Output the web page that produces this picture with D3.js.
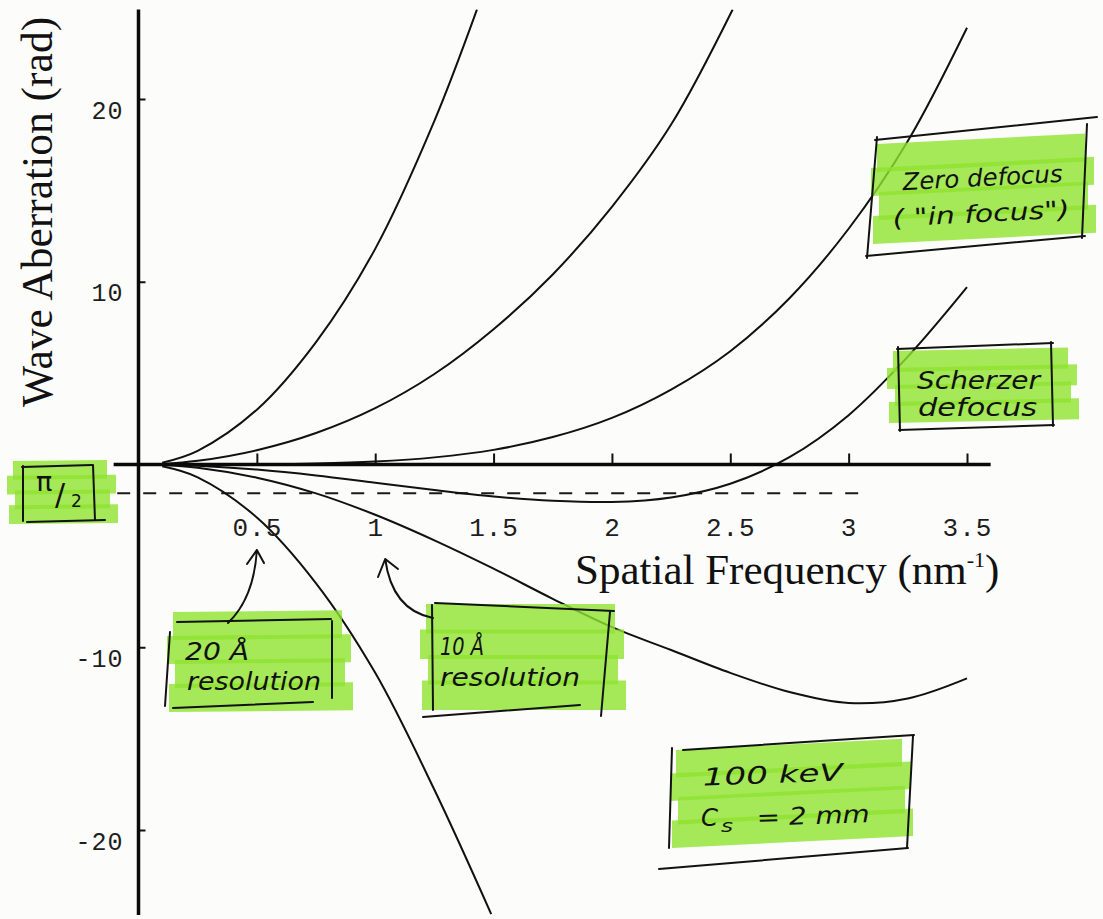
<!DOCTYPE html>
<html>
<head>
<meta charset="utf-8">
<script src="https://cdn.jsdelivr.net/npm/d3@7"></script>
<style>
  body { margin: 0; background: #fcfcfb; }
  svg { display: block; }
</style>
</head>
<body>
<div id="container"></div>
<script>
/* DATA */
const xTicks = [0.5, 1, 1.5, 2, 2.5, 3, 3.5];
const yTicks = [-20, -10, 10, 20];

// spatial frequency (nm^-1) samples
const kFull = [0.1, 0.25, 0.5, 0.75, 1.0, 1.25, 1.5, 1.75, 2.0, 2.25, 2.5, 2.75, 3.0, 3.25, 3.5];
const kOver1000 = [0.1, 0.25, 0.5, 0.75, 1.0, 1.25, 1.43];
const kUnder1000 = [0.1, 0.25, 0.5, 0.75, 1.0, 1.25, 1.49];
const kOver250 = [0.1, 0.25, 0.5, 0.75, 1.0, 1.25, 1.5, 1.75, 2.0, 2.25, 2.51];

// wave aberration (rad)
const chiOver1000 = [0.1, 0.75, 3.0, 6.7, 11.8, 18.8, 24.9];
const chiOver250 = [0.03, 0.2, 0.78, 1.72, 3.08, 4.95, 7.4, 10.4, 14.1, 18.6, 24.9];
const chiZero = [0, 0, 0.01, 0.05, 0.16, 0.39, 0.8, 1.5, 2.55, 4.1, 6.2, 9.1, 12.9, 17.7, 23.9];
const chiScherzer = [-0.01, -0.07, -0.28, -0.6, -1.0, -1.4, -1.75, -1.98, -2.05, -1.8, -1.05, 0.4, 2.7, 5.9, 9.7];
const chiUnder250 = [-0.03, -0.18, -0.72, -1.58, -2.75, -4.15, -5.7, -7.35, -8.9, -10.15, -11.4, -12.45, -13.05, -12.8, -11.7];
const chiUnder1000 = [-0.1, -0.7, -2.9, -6.5, -11.4, -17.8, -24.6];

const halfPi = -Math.PI / 2;   // dashed reference level

/* CONSTANTS AND GLOBALS */
const width = 1103;
const height = 919;

const svg = d3.select("#container")
  .append("svg")
  .attr("width", width)
  .attr("height", height)
  .style("background-color", "#fcfcfb");

// SCALES
const x = d3.scaleLinear().domain([0, 3.5]).range([138.5, 967]);
const y = d3.scaleLinear().domain([-20, 20]).range([830, 99]);

const yTop = 24.9, yBottom = -24.65;

// clip for curves
svg.append("clipPath").attr("id", "plotClip")
  .append("rect")
  .attr("x", x(0)).attr("y", y(yTop))
  .attr("width", x(3.7) - x(0)).attr("height", y(yBottom) - y(yTop));

// DASHED pi/2 LINE
svg.append("line")
  .attr("x1", x(-0.09)).attr("x2", x(3.08))
  .attr("y1", y(halfPi)).attr("y2", y(halfPi))
  .attr("stroke", "#1a1a1a")
  .attr("stroke-width", 2)
  .attr("stroke-dasharray", "13,13");

// CURVES
const series = [
  { k: kOver1000, v: chiOver1000 },
  { k: kOver250, v: chiOver250 },
  { k: kFull, v: chiZero },
  { k: kFull, v: chiScherzer },
  { k: kFull, v: chiUnder250 },
  { k: kUnder1000, v: chiUnder1000 }
];

const lineGen = d3.line()
  .x(d => x(d[0]))
  .y(d => y(d[1]))
  .curve(d3.curveCatmullRom.alpha(0.5));

svg.append("g")
  .attr("clip-path", "url(#plotClip)")
  .selectAll(".curve")
  .data(series)
  .join("path")
  .attr("class", "curve")
  .attr("fill", "none")
  .attr("stroke", "#111")
  .attr("stroke-width", 2)
  .attr("d", s => lineGen(s.k.map((k, i) => [k, s.v[i]])));

// AXES
const monoFont = "'Liberation Mono', 'DejaVu Sans Mono', monospace";

svg.append("g")
  .attr("transform", `translate(${x(0)},0)`)
  .call(d3.axisLeft(y).tickValues(yTicks).tickSizeInner(-7).tickSizeOuter(0).tickPadding(15).tickFormat(d => String(d)))
  .call(g => g.select(".domain").remove())
  .call(g => g.selectAll(".tick line").attr("stroke", "#111").attr("stroke-width", 2))
  .call(g => g.selectAll(".tick text")
    .attr("dy", 19)
    .attr("fill", "#1e1e1e")
    .style("font-family", monoFont)
    .style("font-size", "25px")
    .style("letter-spacing", "1px"));

svg.append("g")
  .attr("transform", `translate(0,${y(0)})`)
  .call(d3.axisBottom(x).tickValues(xTicks).tickSizeInner(-11).tickSizeOuter(0).tickPadding(0).tickFormat(d => String(d)))
  .call(g => g.select(".domain").remove())
  .call(g => g.selectAll(".tick line").attr("stroke", "#111").attr("stroke-width", 2))
  .call(g => g.selectAll(".tick text")
    .attr("y", 71)
    .attr("dy", 0)
    .attr("fill", "#1e1e1e")
    .style("font-family", monoFont)
    .style("font-size", "26px")
    .style("letter-spacing", "1px"));

// axis lines
svg.append("line")
  .attr("x1", x(-0.105)).attr("x2", x(3.6))
  .attr("y1", y(0)).attr("y2", y(0))
  .attr("stroke", "#0a0a0a").attr("stroke-width", 3.5);

svg.append("line")
  .attr("x1", x(0)).attr("x2", x(0))
  .attr("y1", y(yTop)).attr("y2", y(yBottom))
  .attr("stroke", "#0a0a0a").attr("stroke-width", 3.5);

// AXIS TITLES
const serif = "'Liberation Serif', 'DejaVu Serif', serif";

svg.append("text")
  .attr("transform", "translate(52,212) rotate(-90)")
  .attr("text-anchor", "middle")
  .style("font-family", serif)
  .style("font-size", "43.5px")
  .attr("fill", "#111")
  .text("Wave Aberration (rad)");

const xTitle = svg.append("text")
  .attr("x", 575).attr("y", 584)
  .style("font-family", serif)
  .style("font-size", "43px")
  .attr("fill", "#111");
xTitle.append("tspan").text("Spatial Frequency (nm");
xTitle.append("tspan").attr("dy", -17).style("font-size", "22px").text("-1");
xTitle.append("tspan").attr("dy", 17).text(")");

// HANDWRITTEN ANNOTATIONS ================================
const hand = "'DejaVu Sans', sans-serif";
const ink = "#121212";

const notes = [
  { area: [10, 463, 112, 522], tilt: -0.01,
    lines: [[22, 467, 92, 465], [23, 466, 23, 521], [93, 465, 95, 520], [27, 522, 105, 520]] },
  { area: [170, 614, 347, 710], tilt: -0.01,
    lines: [[170, 632, 165, 706], [177, 622, 331, 619], [332, 621, 332, 698], [173, 708, 313, 702]],
    texts: [{ t: "20 Å", x: 185, y: 660, w: 64 }, { t: "resolution", x: 187, y: 690, w: 134 }] },
  { area: [423, 606, 620, 708], tilt: 0.0,
    lines: [[435, 603, 614, 611], [432, 605, 433, 710], [610, 612, 601, 716], [423, 717, 580, 705]],
    texts: [{ t: "10 Å", x: 440, y: 655, w: 44 }, { t: "resolution", x: 440, y: 686, w: 140 }] },
  { area: [874, 146, 1090, 242], tilt: -0.05,
    lines: [[875, 140, 1097, 117], [877, 137, 867, 258], [1087, 124, 1082, 238], [866, 256, 1085, 236]],
    texts: [{ t: "Zero defocus", x: 903, y: 186, w: 160, r: -3 }, { t: "( \"in focus\")", x: 893, y: 222, w: 177, r: -3 }] },
  { area: [890, 353, 1073, 421], tilt: -0.02,
    lines: [[897, 349, 1053, 343], [898, 347, 900, 431], [1051, 342, 1053, 426], [899, 430, 1054, 425]],
    texts: [{ t: "Scherzer", x: 917, y: 389, w: 123 }, { t: "defocus", x: 918, y: 416, w: 119 }] },
  { area: [673, 752, 907, 846], tilt: -0.05,
    lines: [[683, 750, 914, 735], [672, 748, 669, 848], [913, 736, 907, 848], [659, 869, 908, 848]],
    texts: [{ t: "100 keV", x: 703, y: 783, w: 140, r: -2 }, { t: "= 2 mm", x: 757, y: 824, w: 113, r: -2 },
            { t: "C", x: 701, y: 826, w: 17 }, { t: "s", x: 721, y: 832, w: 12, size: 17 }] }
];

const jl = [3, -3, 5, -1], jr = [-5, 4, -2, 6];

const noteG = svg.append("g");

notes.forEach(nb => {
  const [x0, y0, x1, y1] = nb.area;
  const n = 4, h = (y1 - y0) / n;
  for (let i = 0; i < n; i++) {
    const t = y0 + i * h - 2, b = y0 + (i + 1) * h + 2;
    const l = x0 + jl[i], r = x1 + jr[i];
    const dy = nb.tilt * (r - l);
    noteG.append("polygon")
      .attr("points", [[l, t], [r, t + dy], [r, b + dy], [l, b]].join(" "))
      .attr("fill", "#8ee22f")
      .attr("opacity", 0.8);
  }
  nb.lines.forEach(([ax, ay, bx, by]) => {
    noteG.append("line")
      .attr("x1", ax).attr("y1", ay).attr("x2", bx).attr("y2", by)
      .attr("stroke", ink).attr("stroke-width", 2).attr("stroke-linecap", "round");
  });
  (nb.texts || []).forEach(tx => {
    noteG.append("text")
      .attr("x", tx.x).attr("y", tx.y)
      .attr("textLength", tx.w).attr("lengthAdjust", "spacingAndGlyphs")
      .attr("transform", tx.r ? `rotate(${tx.r},${tx.x + tx.w / 2},${tx.y})` : null)
      .style("font-family", hand)
      .style("font-style", "italic")
      .style("font-size", (tx.size || 24) + "px")
      .attr("fill", ink)
      .text(tx.t);
  });
});

// pi/2 label
noteG.append("text").attr("x", 36).attr("y", 491)
  .style("font-family", hand).style("font-size", "27px").attr("fill", ink).text("π");
noteG.append("text").attr("x", 55).attr("y", 505)
  .style("font-family", hand).style("font-size", "30px").attr("fill", ink).text("/");
noteG.append("text").attr("x", 71).attr("y", 507)
  .style("font-family", hand).style("font-size", "17px").attr("fill", ink).text("2");

// ARROWS to tick labels
const arrows = [
  { from: [228, 623], ctrl: [254, 598], tip: [x(0.5), 550], head: [[247, 564], [264, 563]] },
  { from: [433, 618], ctrl: [392, 610], tip: [x(1) + 10, 559], head: [[378, 577], [398, 569]] }
];

arrows.forEach(a => {
  const p = d3.path();
  p.moveTo(...a.from);
  p.quadraticCurveTo(...a.ctrl, ...a.tip);
  p.moveTo(...a.head[0]);
  p.lineTo(...a.tip);
  p.lineTo(...a.head[1]);
  noteG.append("path")
    .attr("d", p.toString())
    .attr("fill", "none")
    .attr("stroke", ink)
    .attr("stroke-width", 2)
    .attr("stroke-linecap", "round")
    .attr("stroke-linejoin", "round");
});
</script>
</body>
</html>
